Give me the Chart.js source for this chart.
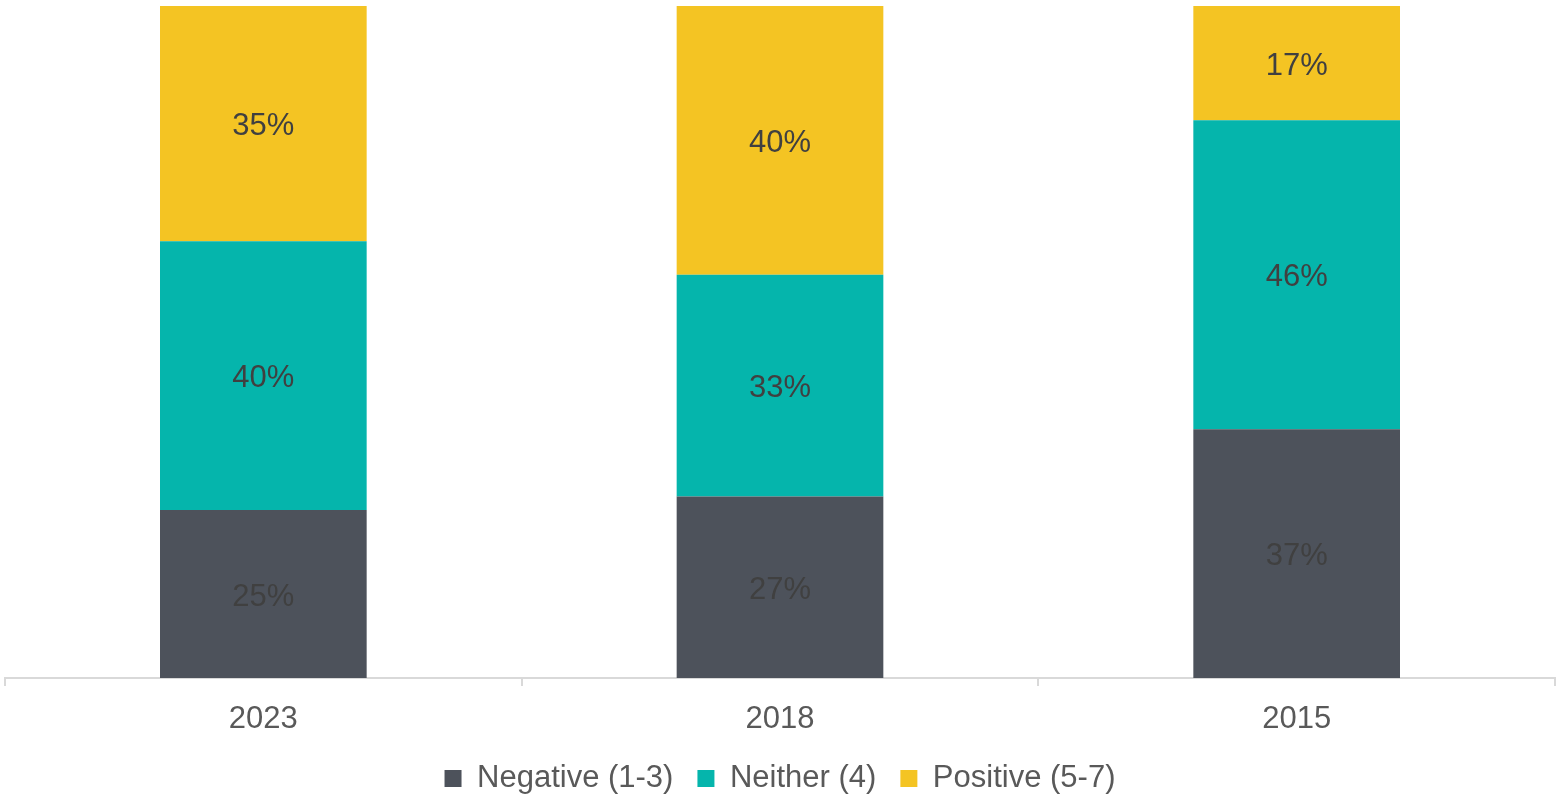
<!DOCTYPE html>
<html>
<head>
<meta charset="utf-8">
<script src="https://cdn.jsdelivr.net/npm/chart.js@4"></script>
<style>
  html, body { margin: 0; padding: 0; background: #fff; }
  #wrap { width: 1559px; height: 799px; }
</style>
</head>
<body>
<div id="wrap"><canvas id="myChart"></canvas></div>
<script>
const years = ['2023', '2018', '2015'];
const negative = [25, 27, 37];
const neither = [40, 33, 46];
const positive = [35, 40, 17];

const ctx = document.getElementById('myChart');
const fontFamily = '"Liberation Sans", Arial, sans-serif';

// ghi nhãn % vào giữa mỗi đoạn cột
const barLabels = {
    id: 'barLabels',
    afterDatasetsDraw(chart) {
        const c = chart.ctx;
        c.save();
        c.font = '31px ' + fontFamily;
        c.fillStyle = '#404040';
        c.textAlign = 'center';
        c.textBaseline = 'middle';
        chart.data.datasets.forEach((ds, i) => {
            chart.getDatasetMeta(i).data.forEach((bar, j) => {
                const mid = (bar.y + bar.base) / 2 + 3;
                c.fillText(ds.data[j] + '%', bar.x, mid);
            });
        });
        c.restore();
    }
};

// chỉnh chiều cao legend
const legendFit = {
    id: 'legendFit',
    beforeInit(chart) {
        const fit = chart.legend.fit;
        chart.legend.fit = function () {
            fit.bind(chart.legend)();
            this.height = 60;
        };
    }
};

new Chart(ctx, {
    type: 'bar',
    data: {
        labels: years,
        datasets: [
            { label: 'Negative (1-3)', data: negative, backgroundColor: '#4D525B' },
            { label: 'Neither (4)', data: neither, backgroundColor: '#05B5AC' },
            { label: 'Positive (5-7)', data: positive, backgroundColor: '#F4C423' }
        ]
    },
    options: {
        responsive: true,
        maintainAspectRatio: false,
        animation: false,
        datasets: { bar: { categoryPercentage: 1, barPercentage: 0.4 } },
        layout: { padding: { top: 6, left: 5, right: 4, bottom: 0 } },
        plugins: {
            tooltip: { enabled: false },
            legend: {
                position: 'bottom',
                labels: {
                    boxWidth: 17,
                    boxHeight: 17,
                    padding: 24,
                    color: '#595959',
                    font: { size: 31, family: fontFamily }
                }
            }
        },
        scales: {
            x: {
                stacked: true,
                border: { color: '#d9d9d9', width: 2 },
                grid: { offset: true, drawOnChartArea: false, tickLength: 8, color: '#d9d9d9', lineWidth: 2 },
                ticks: {
                    padding: 15,
                    color: '#595959',
                    font: { size: 31, family: fontFamily }
                },
                afterFit(scale) {
                    scale.height = 61;
                }
            },
            y: {
                stacked: true,
                display: false,
                min: 0,
                max: 100
            }
        }
    },
    plugins: [barLabels, legendFit]
});
</script>
</body>
</html>
